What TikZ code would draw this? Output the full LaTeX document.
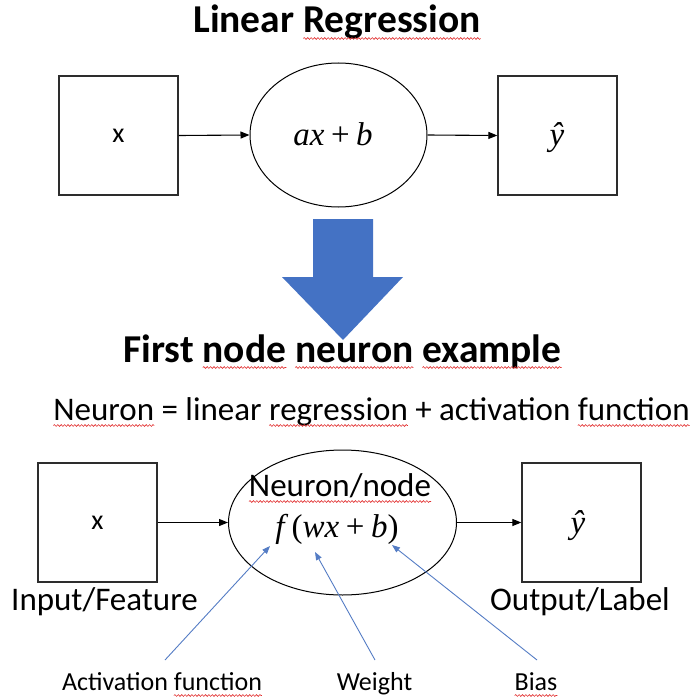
\documentclass[tikz,border=0pt]{standalone}
\usepackage{fontspec}
\setmainfont{Carlito}
\newfontfamily\mfam{Liberation Serif}
\usetikzlibrary{arrows.meta,shapes.geometric,decorations.pathmorphing}
\definecolor{bluefill}{RGB}{68,114,196}
\definecolor{bluearr}{RGB}{84,124,196}
\definecolor{boxline}{RGB}{45,45,45}
\definecolor{squig}{RGB}{225,45,45}
\newsavebox\sqbox
\newlength\sqlen
\newcommand\sq[1]{\sbox\sqbox{#1}\setlength\sqlen{\wd\sqbox}\rlap{\usebox\sqbox}%
  \tikz[baseline=0pt,x=1pt,y=1pt]{\useasboundingbox (0pt,0pt) rectangle (\sqlen,0pt);
  \draw[overlay,squig,line width=0.6pt,decorate,decoration={snake,amplitude=0.9pt,segment length=3.4pt}] (0pt,-5.5pt) -- (\sqlen,-5.5pt);}}
\newcommand\mv[1]{{\mfam\itshape #1}}
\newcommand\mop[1]{\hspace{0.2em}{\mfam #1}\hspace{0.2em}}
\begin{document}
\begin{tikzpicture}[x=1pt,y=-1pt,
  box/.style={draw=boxline,line width=1.3pt,minimum width=119pt,minimum height=119pt,inner sep=0pt},
  oval/.style={draw=black,line width=1pt,ellipse,inner sep=0pt},
  blk/.style={-{Triangle[length=9pt,width=7pt]},line width=1.1pt,draw=black},
  barr/.style={-{Triangle[length=8pt,width=6pt]},line width=0.9pt,draw=bluearr},
  titlefont/.style={font=\fontsize{39.5}{44}\selectfont\bfseries},
  bodyfont/.style={font=\fontsize{33}{38}\selectfont},
  smallfont/.style={font=\fontsize{26}{30}\selectfont},
  xfont/.style={font=\fontsize{28}{32}\selectfont},
  mathfont/.style={font=\fontsize{33}{38}\selectfont}]
\useasboundingbox (0,0) rectangle (691,698);
% ---- top part
\node[titlefont,anchor=base,inner sep=0pt] (t1) at (337,33) {Linear \sq{Regression}};
\node[box,xfont] (b1) at (118.5,135.5) {x};
\node[oval,minimum width=177pt,minimum height=144pt] (e1) at (338.5,135) {};
\node[mathfont,anchor=base,inner sep=0pt] (ax) at (333,145) {\mv{ax}\mop{+}\mv{b}};
\node[box] (b2) at (557.5,135.5) {};
\node[mathfont,anchor=base,inner sep=0pt] (yh1) at (557,145) {\mv{ŷ}};
\draw[blk] (b1.east) -- (e1.west);
\draw[blk] (e1.east) -- (b2.west);
% ---- big arrow
\fill[bluefill] (313,219) -- (373,219) -- (373,277) -- (403,277) -- (343,340) -- (282,277) -- (313,277) -- cycle;
% ---- bottom part
\node[titlefont,anchor=base,inner sep=0pt] (t2) at (342.5,362) {First \sq{node} \sq{neuron} \sq{example}};
\node[bodyfont,anchor=base,inner sep=0pt] (eq) at (371.5,420) {\sq{Neuron} = linear \sq{regression} + activation \sq{function}};
\node[box,xfont] (b3) at (97.5,522.5) {x};
\node[oval,minimum width=228pt,minimum height=145pt] (e2) at (342.5,522.5) {};
\node[bodyfont,anchor=base,inner sep=0pt] (nn) at (340,496) {\sq{Neuron/node}};
\node[mathfont,anchor=base,inner sep=0pt] (fx) at (337,537) {\mv{f}\hspace{0.22em}{\mfam(}\mv{wx}\mop{+}\mv{b}{\mfam)}};
\node[box] (b4) at (581.5,522.5) {};
\node[mathfont,anchor=base,inner sep=0pt] (yh2) at (578,533) {\mv{ŷ}};
\draw[blk] (b3.east) -- (e2.west);
\draw[blk] (e2.east) -- (b4.west);
\node[bodyfont,anchor=base,inner sep=0pt] (inl) at (104.5,610) {Input/Feature};
\node[bodyfont,anchor=base,inner sep=0pt] (outl) at (580,610) {Output/Label};
\node[smallfont,anchor=base,inner sep=0pt] (actl) at (162,690) {Activation \sq{function}};
\node[smallfont,anchor=base,inner sep=0pt] (wl) at (374.5,690) {Weight};
\node[smallfont,anchor=base,inner sep=0pt] (bl) at (536,690) {\sq{Bias}};
% ---- pointer arrows
\coordinate (ta) at (165,660);
\coordinate (ha) at (270,546);
\coordinate (tw) at (375,660);
\coordinate (hw) at (315,552);
\coordinate (tb) at (537,660);
\coordinate (hb) at (392,545);
\draw[barr] (ta) -- (ha);
\draw[barr] (tw) -- (hw);
\draw[barr] (tb) -- (hb);
\end{tikzpicture}
\end{document}
